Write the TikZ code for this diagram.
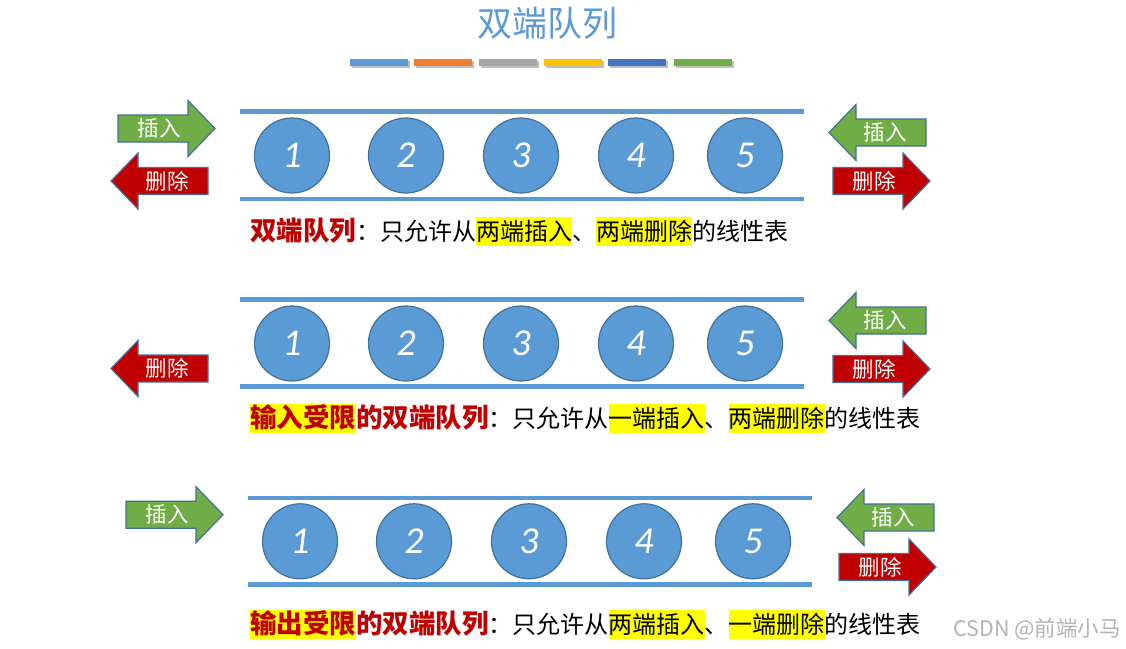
\documentclass[tikz,border=0pt]{standalone}
\usepackage{fontspec}
\setmainfont{Noto Sans CJK SC}
\newfontfamily\numfont{Carlito}
\definecolor{qblue}{HTML}{5B9BD5}
\definecolor{qedge}{HTML}{41719C}
\definecolor{qgreen}{HTML}{70AD47}
\definecolor{qred}{HTML}{C00000}
\definecolor{hly}{HTML}{FFFF00}
\definecolor{bar1}{HTML}{5B9BD5}
\definecolor{bar2}{HTML}{ED7D31}
\definecolor{bar3}{HTML}{A5A5A5}
\definecolor{bar4}{HTML}{FFC000}
\definecolor{bar5}{HTML}{4472C4}
\definecolor{bar6}{HTML}{70AD47}
\definecolor{wmgray}{HTML}{B4B4B4}
\newcommand\hlbox[1]{{\setlength\fboxsep{0pt}\colorbox{hly}{\rule[-6pt]{0pt}{29.5pt}#1}}}
\newcommand\redtxt[1]{{\color{qred}\bfseries\fontsize{26.5}{26.5}\selectfont #1}}
\tikzset{
  rail/.style={draw=qblue, line width=4.5pt},
  ball/.style={circle, fill=qblue, draw=qedge, line width=1.2pt, minimum size=75pt, inner sep=0pt,
    text=white, font=\numfont\itshape\fontsize{38}{38}\selectfont},
  arrowshape/.style={draw=qedge, line width=1.2pt, line join=miter},
  arrowtext/.style={text=white, font=\fontsize{21.5}{21.5}\selectfont, inner sep=0pt},
  caption/.style={anchor=base west, inner sep=0pt, font=\fontsize{24}{24}\selectfont}
}
% right-pointing arrow: name, x of tail, y centre, fill, text
\newcommand\DQright[5]{%
  \draw[arrowshape, fill=#4] (#2,#3-13.5) -- (#2+70,#3-13.5) -- (#2+70,#3-28) -- (#2+97,#3)
     -- (#2+70,#3+28) -- (#2+70,#3+13.5) -- (#2,#3+13.5) -- cycle;
  \node[arrowtext] (#1) at (#2+41,#3) {#5};}
% left-pointing arrow: name, x of tip, y centre, fill, text
\newcommand\DQleft[5]{%
  \draw[arrowshape, fill=#4] (#2,#3) -- (#2+27,#3-28) -- (#2+27,#3-13.5) -- (#2+97,#3-13.5)
     -- (#2+97,#3+13.5) -- (#2+27,#3+13.5) -- (#2+27,#3+28) -- cycle;
  \node[arrowtext] (#1) at (#2+56,#3) {#5};}
\begin{document}
\begin{tikzpicture}[x=1pt,y=-1pt]
\useasboundingbox[fill=white] (0,0) rectangle (1126,648);
% title
\node[anchor=base, text=qblue, font=\fontsize{35}{35}\selectfont, inner sep=0pt] (title) at (547,36) {双端队列};
% colour bars
\foreach \a/\b/\c in {350/408/bar1,414/472/bar2,479/537/bar3,544/602/bar4,608/666/bar5,674/732/bar6}{
  \fill[black!25] (\a+1.5,60.5) rectangle (\b+1.5,67.5);
  \fill[\c] (\a,59) rectangle (\b,66);
}
% ---------- section 1
\coordinate (t1a) at (240,111.5); \coordinate (t1b) at (804,111.5);
\coordinate (b1a) at (240,198.8); \coordinate (b1b) at (804,198.8);
\draw[rail] (t1a) -- (t1b);
\draw[rail] (b1a) -- (b1b);
\foreach \i/\x in {1/292,2/406,3/521,4/636,5/745}
  \node[ball] (a\i) at (\x,155.5) {\i};
\DQright{ins1l}{118}{128.5}{qgreen}{插入}
\DQleft{del1l}{111}{181}{qred}{删除}
\DQleft{ins1r}{829}{132.5}{qgreen}{插入}
\DQright{del1r}{833}{181}{qred}{删除}
\node[caption] (cap1) at (250,240) {\redtxt{双端队列}：只允许从\hlbox{两端插入}、\hlbox{两端删除}的线性表};
% ---------- section 2
\coordinate (t2a) at (240,299.5); \coordinate (t2b) at (804,299.5);
\coordinate (b2a) at (240,386.5); \coordinate (b2b) at (804,386.5);
\draw[rail] (t2a) -- (t2b);
\draw[rail] (b2a) -- (b2b);
\foreach \i/\x in {1/292,2/406,3/521,4/636,5/745}
  \node[ball] (b\i) at (\x,343.5) {\i};
\DQleft{del2l}{111}{368.5}{qred}{删除}
\DQleft{ins2r}{829}{320.5}{qgreen}{插入}
\DQright{del2r}{833}{369}{qred}{删除}
\node[caption] (cap2) at (250,427) {\hlbox{\redtxt{输入受限}}\redtxt{的双端队列}：只允许从\hlbox{一端插入}、\hlbox{两端删除}的线性表};
% ---------- section 3
\coordinate (t3a) at (248,498); \coordinate (t3b) at (812,498);
\coordinate (b3a) at (248,584.7); \coordinate (b3b) at (812,584.7);
\draw[rail] (t3a) -- (t3b);
\draw[rail] (b3a) -- (b3b);
\foreach \i/\x in {1/300,2/414,3/529,4/644,5/753}
  \node[ball] (c\i) at (\x,541.3) {\i};
\DQright{ins3l}{126}{514.7}{qgreen}{插入}
\DQleft{ins3r}{837}{517.5}{qgreen}{插入}
\DQright{del3r}{839}{567}{qred}{删除}
\node[caption] (cap3) at (250,633) {\hlbox{\redtxt{输出受限}}\redtxt{的双端队列}：只允许从\hlbox{两端插入}、\hlbox{一端删除}的线性表};
% watermark
\node[anchor=base east, inner sep=0pt, text=wmgray, font=\fontsize{21.5}{21.5}\selectfont] (wm) at (1121,636) {CSDN @前端小马};
\end{tikzpicture}
\end{document}
